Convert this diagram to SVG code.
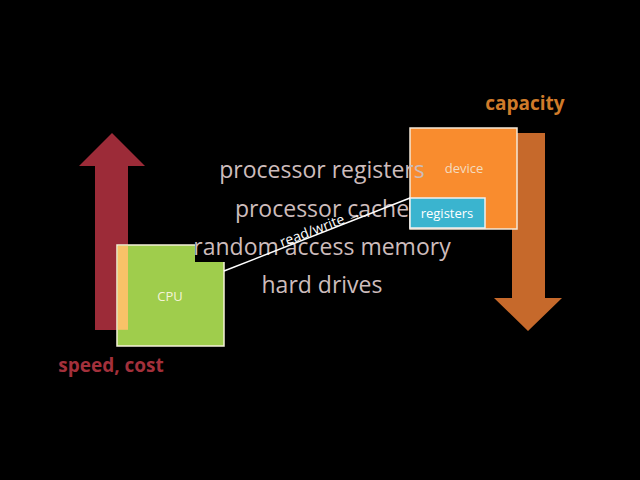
<svg xmlns="http://www.w3.org/2000/svg" width="640" height="480" viewBox="0 0 640 480">
<style>
.t{font-family:"Open Sans","Liberation Sans",sans-serif;fill:#cdbcbc;font-size:23px;text-anchor:middle}
.b{font-family:"Open Sans","Liberation Sans",sans-serif;font-weight:bold;font-size:19px}
.s{font-family:"Open Sans","Liberation Sans",sans-serif;font-size:13px;fill:#fff;text-anchor:middle}
</style>
<rect width="640" height="480" fill="#000"/>
<g id="speed-arrow"><polygon points="95,330 128,330 128,166 145,166 112,133 79,166 95,166" fill="#9c2b38"/></g>
<g id="capacity-arrow"><polygon points="512,133 545,133 545,298 562,298 528,331 494,298 512,298" fill="#c6692b"/></g>
<g id="cpu"><rect x="117" y="245" width="107" height="101" fill="#9fcd4c" stroke="#f4f0d8" stroke-width="1.5"/><rect x="117.8" y="245.8" width="10.2" height="84" fill="#f8c268"/><text x="170" y="301" class="s" style="fill:#f4f4d8">CPU</text></g>
<rect x="195" y="150" width="317" height="112" fill="#000"/>
<g id="device"><rect x="410" y="128" width="107" height="101" fill="#f98c2e" stroke="#f4e8d8" stroke-width="1.5"/><text x="464" y="173" class="s" style="fill:#f4dcc0">device</text></g>
<g id="registers"><rect x="410" y="198" width="75" height="30" fill="#3ab4cf" stroke="#f0f0f0" stroke-width="1.5"/><text x="447" y="218" class="s">registers</text></g>
<g id="levels">
<text x="322" y="178" class="t">processor registers</text>
<text x="322" y="217" class="t">processor cache</text>
<text x="322" y="255" class="t">random access memory</text>
<text x="322" y="293" class="t">hard drives</text>
</g>
<g id="connectors"><line x1="224" y1="271" x2="410" y2="198" stroke="#fff" stroke-width="1.5"/>
<text class="s" style="font-size:14px" transform="translate(322,232) rotate(-21)">read/write →</text></g>
<text x="111" y="372" class="b" fill="#a3303b" text-anchor="middle">speed, cost</text>
<text x="525" y="110" class="b" fill="#d07b2a" text-anchor="middle">capacity</text>
</svg>
